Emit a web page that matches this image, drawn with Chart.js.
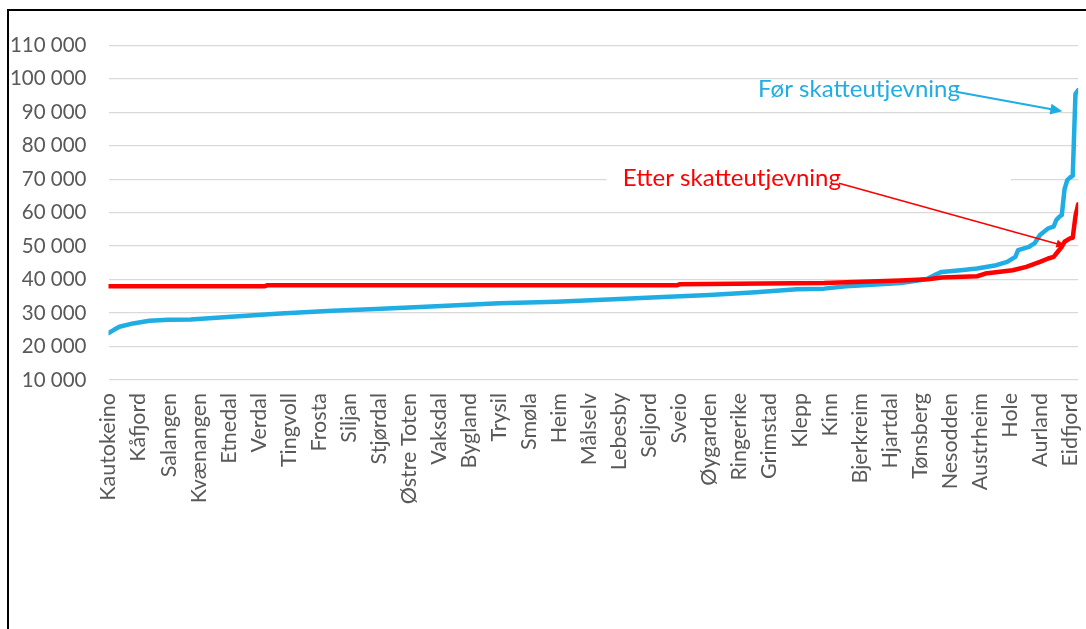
<!DOCTYPE html>
<html>
<head>
<meta charset="utf-8">
<script src="https://cdn.jsdelivr.net/npm/chart.js@4.4.0/dist/chart.umd.min.js"></script>
<style>
    html, body { margin: 0; padding: 0; background: #fff; overflow: hidden; }
    #frame { position: absolute; left: 7px; top: 9px; width: 1200px; height: 700px; border-left: 2px solid #000; border-top: 2px solid #000; }
    #wrap { position: absolute; left: 0; top: 0; width: 1100px; height: 600px; }
</style>
</head>
<body>
<div id="frame"><div id="wrap"><canvas id="chart"></canvas></div></div>
<script>
// --- DADOS ---
// kommuner sortert etter skatteinntekt per innbygger, hvert 11. navn vises
const tickNames = ['Kautokeino', 'Kåfjord', 'Salangen', 'Kvænangen', 'Etnedal', 'Verdal', 'Tingvoll', 'Frosta',
    'Siljan', 'Stjørdal', 'Østre Toten', 'Vaksdal', 'Bygland', 'Trysil', 'Smøla', 'Heim', 'Målselv', 'Lebesby',
    'Seljord', 'Sveio', 'Øygarden', 'Ringerike', 'Grimstad', 'Klepp', 'Kinn', 'Bjerkreim', 'Hjartdal', 'Tønsberg',
    'Nesodden', 'Austrheim', 'Hole', 'Aurland', 'Eidfjord'];
const lastRank = 355;
const tickStep = 11;

const beforeRank = [0, 2, 4, 9, 15, 22, 30, 45, 63, 82, 98, 120, 143, 164, 185, 201, 220, 237, 252, 262,
    270, 278, 290, 297, 300, 303, 305, 312, 318, 325, 329, 332, 333, 337, 339, 341, 344, 346, 347, 348,
    349, 350, 351, 352, 353, 354, 355];
const beforeValue = [24000, 25000, 25900, 26900, 27700, 28000, 28100, 28900, 29900, 30700, 31200, 32000, 32900, 33400, 34100, 34700, 35400, 36200, 37100, 37300,
    38000, 38400, 39000, 39800, 40300, 41600, 42300, 42800, 43300, 44300, 45300, 46800, 48800, 49800, 50800, 53300, 55300, 55800, 57800, 58700,
    59300, 67000, 69700, 70500, 71000, 95500, 96600];

const afterRank = [0, 57, 58, 208, 209, 240, 262, 273, 290, 300, 305, 318, 321, 331, 336, 341, 344, 346, 347, 349,
    350, 352, 353, 354, 355];
const afterValue = [38000, 38000, 38300, 38300, 38600, 38800, 39000, 39300, 39700, 40100, 40600, 41000, 41800, 42800, 43800, 45300, 46300, 46800, 47800, 49800,
    51300, 52300, 52500, 59000, 62500];

const blue = '#1fade4';
const red = '#ff0000';
const gray = '#595959';
const font = 'Lato';

const toPoints = (xs, ys) => xs.map((x, i) => ({ x: x, y: ys[i] }));
const fmt = v => String(v).replace(/\B(?=(\d{3})+(?!\d))/g, ' ');

// --- ANOTASJONER (piler og tekst) ---
function arrow(ctx, x1, y1, x2, y2, color, width, head) {
    const a = Math.atan2(y2 - y1, x2 - x1);
    ctx.save();
    ctx.strokeStyle = color;
    ctx.fillStyle = color;
    ctx.lineWidth = width;
    ctx.beginPath();
    ctx.moveTo(x1, y1);
    ctx.lineTo(x2 - Math.cos(a) * head * 0.8, y2 - Math.sin(a) * head * 0.8);
    ctx.stroke();
    ctx.beginPath();
    ctx.moveTo(x2, y2);
    ctx.lineTo(x2 - head * Math.cos(a) + head * 0.45 * Math.sin(a), y2 - head * Math.sin(a) - head * 0.45 * Math.cos(a));
    ctx.lineTo(x2 - head * Math.cos(a) - head * 0.45 * Math.sin(a), y2 - head * Math.sin(a) + head * 0.45 * Math.cos(a));
    ctx.closePath();
    ctx.fill();
    ctx.restore();
}

const notes = {
    id: 'notes',
    afterDatasetsDraw(chart) {
        const { ctx, scales: { x, y } } = chart;
        ctx.save();
        ctx.font = '24px ' + font;
        ctx.textBaseline = 'middle';
        ctx.textAlign = 'left';

        // Før skatteutjevning
        const t1 = 'Før skatteutjevning';
        const x1 = x.getPixelForValue(237.8), y1 = y.getPixelForValue(97000);
        ctx.fillStyle = blue;
        ctx.fillText(t1, x1, y1);
        const w1 = ctx.measureText(t1).width;
        arrow(ctx, x1 + w1 - 4, y1 + 3, x.getPixelForValue(349.2), y.getPixelForValue(90300), blue, 2, 12);

        // Etter skatteutjevning (hvit tekstboks over rutenettet)
        ctx.fillStyle = '#fff';
        const bx = x.getPixelForValue(182.4), by = y.getPixelForValue(74000);
        ctx.fillRect(bx, by, x.getPixelForValue(330.4) - bx, y.getPixelForValue(66000) - by);
        const t2 = 'Etter skatteutjevning';
        const x2 = x.getPixelForValue(188.3), y2 = y.getPixelForValue(70300);
        ctx.fillStyle = red;
        ctx.fillText(t2, x2, y2);
        const w2 = ctx.measureText(t2).width;
        arrow(ctx, x2 + w2 - 2, y2 + 5, x.getPixelForValue(350.3), y.getPixelForValue(50000), red, 1.6, 9);
        ctx.restore();
    }
};

const chart = new Chart(document.getElementById('chart'), {
    type: 'line',
    data: {
        datasets: [
            { label: 'Etter skatteutjevning', data: toPoints(afterRank, afterValue), borderColor: red, borderWidth: 4.5, order: 0 },
            { label: 'Før skatteutjevning', data: toPoints(beforeRank, beforeValue), borderColor: blue, borderWidth: 4.5, order: 1 }
        ]
    },
    options: {
        responsive: true, maintainAspectRatio: false, animation: false,
        layout: { padding: { top: 34, right: 24, left: 0, bottom: 0 } },
        elements: {
            point: { radius: 0, hoverRadius: 0 },
            line: { tension: 0, borderJoinStyle: 'round', borderCapStyle: 'round', fill: false }
        },
        plugins: { legend: { display: false }, tooltip: { enabled: false } },
        scales: {
            x: {
                type: 'linear', min: 0, max: lastRank,
                grid: { display: false, drawTicks: false },
                border: { display: false },
                afterFit: s => { s.height = 231; },
                ticks: {
                    stepSize: tickStep, autoSkip: false, includeBounds: false,
                    minRotation: 90, maxRotation: 90, padding: 13,
                    color: gray, font: { family: font, size: 21.5 },
                    callback: v => (v % tickStep === 0 ? tickNames[v / tickStep] : '')
                }
            },
            y: {
                min: 10000, max: 110000,
                grid: { color: '#d9d9d9', lineWidth: 1.3, drawTicks: false },
                border: { display: false },
                afterFit: s => { s.width = 99.5; },
                ticks: {
                    stepSize: 10000, padding: 22,
                    color: gray, font: { family: font, size: 20.5 },
                    callback: v => fmt(v)
                }
            }
        }
    },
    plugins: [notes]
});
</script>
</body>
</html>
